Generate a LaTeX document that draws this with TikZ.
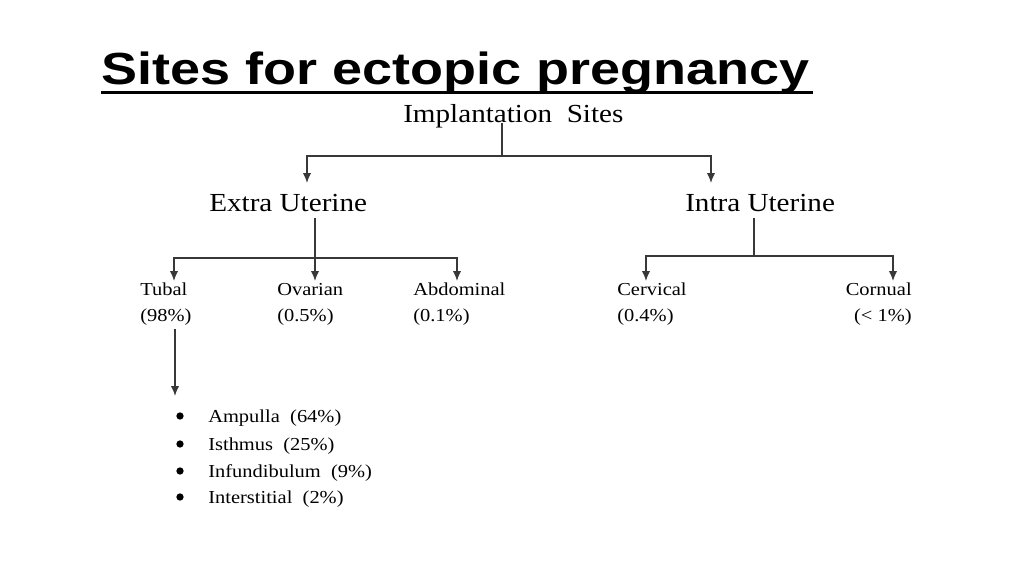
\documentclass[tikz,border=0pt]{standalone}
\usepackage{fontspec}
\setmainfont{Liberation Serif}
\newfontfamily\titlefont[FakeStretch=1.2]{Liberation Sans}
\newfontfamily\chartfont[FakeStretch=1.12]{Liberation Serif}
\usetikzlibrary{arrows.meta}

\tikzset{
  site/.style={font=\chartfont\fontsize{18.5}{22}\selectfont, inner sep=0pt, anchor=base west},
  subsite/.style={font=\chartfont\fontsize{13}{18.5}\selectfont, inner sep=0pt, align=left, anchor=base west},
  link/.style={draw=black!78, line width=1.1pt},
  tip/.style={link, -{Latex[length=7pt,width=6pt]}}
}

\begin{document}
\begin{tikzpicture}[x=0.025cm, y=-0.025cm]
\useasboundingbox (0,0) rectangle (1024,576);

% title
\node[font=\titlefont\bfseries\fontsize{32}{38}\selectfont, inner sep=0pt, anchor=base west] (title) at (101,85) {Sites for ectopic pregnancy};
\draw[line width=2.8pt] (101,92.5) -- (813,92.5);

% levels
\node[site] (root) at (403,123) {Implantation\ \ Sites};
\node[site] (extra) at (209,212) {Extra Uterine};
\node[site] (intra) at (685,212) {Intra Uterine};

% two-line labels, anchored on the second line
\node[subsite] (tubal) at (140,322) {Tubal\\(98\%)};
\node[subsite] (ovarian) at (277,322) {Ovarian\\(0.5\%)};
\node[subsite] (abdominal) at (413,322) {Abdominal\\(0.1\%)};
\node[subsite] (cervical) at (617,322) {Cervical\\(0.4\%)};
\node[subsite, align=right, anchor=base east] (cornual) at (912,322) {Cornual\\(< 1\%)};

% junctions and arrow ends
\coordinate (root-split) at (502,156);
\coordinate (extra-in) at (307,183);
\coordinate (intra-in) at (711,183);
\coordinate (extra-split) at (315,258);
\coordinate (tubal-in) at (174,281);
\coordinate (ovarian-in) at (315,281);
\coordinate (abdominal-in) at (457,281);
\coordinate (intra-split) at (754,256);
\coordinate (cervical-in) at (646,281);
\coordinate (cornual-in) at (893,281);
\coordinate (list-in) at (175,396);

\draw[link] (root.base -| root-split) -- (root-split);
\draw[tip] (root-split) -| (extra-in);
\draw[tip] (root-split) -| (intra-in);

\draw[tip] ([yshift=-4pt]extra.south -| extra-split) -- (ovarian-in);
\draw[tip] (extra-split) -| (tubal-in);
\draw[tip] (extra-split) -| (abdominal-in);

\draw[link] ([yshift=-4pt]intra.south -| intra-split) -- (intra-split);
\draw[tip] (intra-split) -| (cervical-in);
\draw[tip] (intra-split) -| (cornual-in);

\draw[tip] ([yshift=-2pt]tubal.south -| list-in) -- (list-in);

% tubal sites
\foreach \y/\entry [count=\i] in {422/Ampulla~~(64\%), 450/Isthmus~~(25\%), 477/Infundibulum~~(9\%), 503/Interstitial~~(2\%)} {
  \fill (180,\y-6) circle (2.6pt);
  \node[subsite] (item\i) at (208,\y) {\entry};
}
\end{tikzpicture}
\end{document}
